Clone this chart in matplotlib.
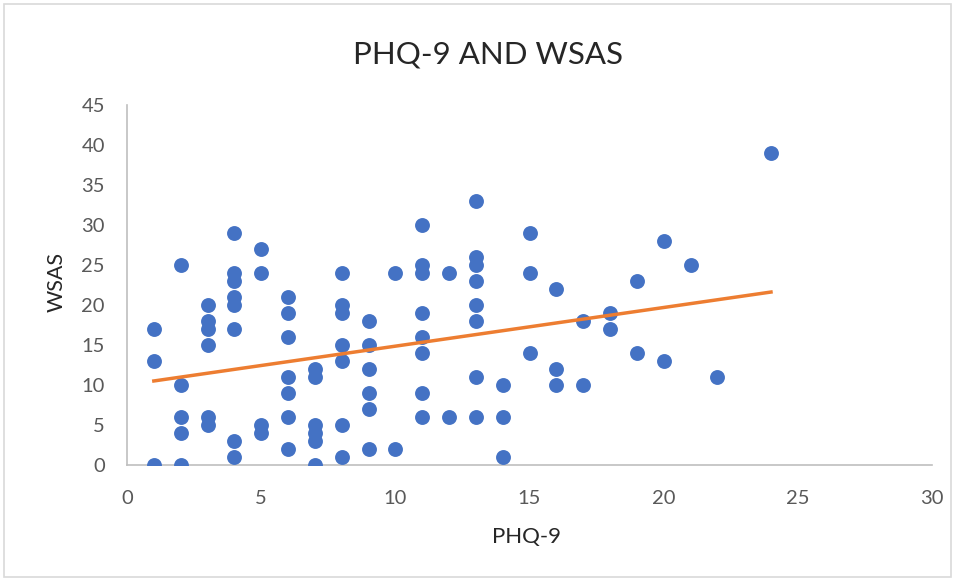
import matplotlib
matplotlib.use("Agg")
import matplotlib.pyplot as plt
import numpy as np
from matplotlib.patches import Rectangle

plt.rcParams['font.family'] = ['Lato', 'DejaVu Sans']

phq9 = [1, 1, 1,
        2, 2, 2, 2, 2,
        3, 3, 3, 3, 3, 3,
        4, 4, 4, 4, 4, 4, 4, 4,
        5, 5, 5, 5,
        6, 6, 6, 6, 6, 6, 6,
        7, 7, 7, 7, 7, 7,
        8, 8, 8, 8, 8, 8, 8,
        9, 9, 9, 9, 9, 9,
        10, 10,
        11, 11, 11, 11, 11, 11, 11, 11,
        12, 12,
        13, 13, 13, 13, 13, 13, 13, 13,
        14, 14, 14,
        15, 15, 15,
        16, 16, 16,
        17, 17,
        18, 18,
        19, 19,
        20, 20,
        21,
        22,
        24]
wsas = [17, 13, 0,
        25, 10, 6, 4, 0,
        20, 18, 17, 15, 6, 5,
        29, 24, 23, 21, 20, 17, 3, 1,
        27, 24, 5, 4,
        21, 19, 16, 11, 9, 6, 2,
        12, 11, 5, 4, 3, 0,
        24, 20, 19, 15, 13, 5, 1,
        18, 15, 12, 9, 7, 2,
        24, 2,
        30, 25, 24, 19, 16, 14, 9, 6,
        24, 6,
        33, 26, 25, 23, 20, 18, 11, 6,
        10, 6, 1,
        29, 24, 14,
        22, 12, 10,
        18, 10,
        19, 17,
        23, 14,
        28, 13,
        25,
        11,
        39]

title = "PHQ-9 AND WSAS"
xlabel = "PHQ-9"
ylabel = "WSAS"

W, H = 955, 580
fig = plt.figure(figsize=(W / 100, H / 100), dpi=100)
fig.patches.append(Rectangle((4 / W, 3 / H), 1 - 8 / W, 1 - 7 / H, transform=fig.transFigure,
                             fill=False, edgecolor='#D9D9D9', linewidth=1.2))

ax = fig.add_axes([127 / W, 1 - 465 / H, (932 - 127) / W, (465 - 105) / H])
x = np.array(phq9, dtype=float)
y = np.array(wsas, dtype=float)
ax.scatter(x, y, s=115, color='#4472C4', zorder=3, linewidths=0)

m, b = np.polyfit(x, y, 1)
xs = np.array([x.min(), x.max()])
ax.plot(xs, m * xs + b, color='#ED7D31', linewidth=2.5, zorder=4)

ax.set_xlim(0, 30)
ax.set_ylim(0, 45)
ax.set_xticks(np.arange(0, 31, 5))
ax.set_yticks(np.arange(0, 46, 5))
for s in ['top', 'right']:
    ax.spines[s].set_visible(False)
for s in ['left', 'bottom']:
    ax.spines[s].set_color('#BFBFBF')
    ax.spines[s].set_linewidth(1.2)
ax.tick_params(length=0, labelsize=14.5, colors='#595959')
ax.tick_params(axis='x', pad=18)
ax.tick_params(axis='y', pad=16)

fig.text(488 / W, 1 - 55 / H, title, ha='center', va='center', fontsize=22.5, color='#262626')
fig.text(526 / W, 1 - 537 / H, xlabel, ha='center', va='center', fontsize=16, color='#262626')
fig.text(57 / W, 1 - 282 / H, ylabel, ha='center', va='center', rotation=90, fontsize=15.5, color='#262626')

fig.savefig('out.png', dpi=100)
